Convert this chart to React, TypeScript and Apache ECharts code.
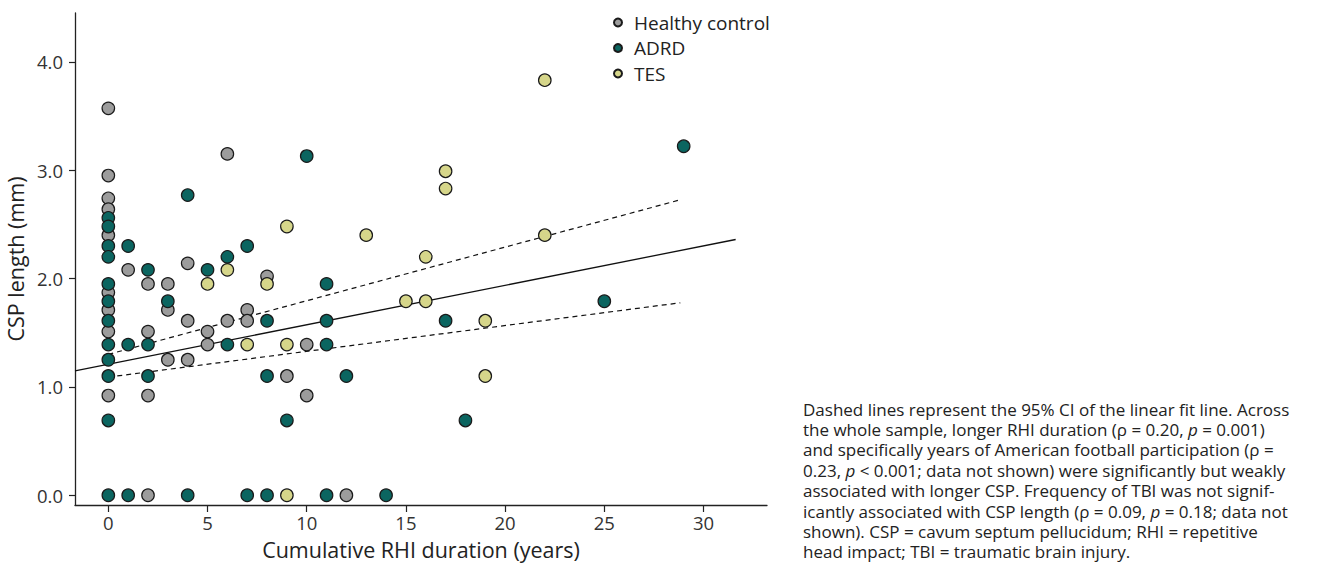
import React, { useEffect, useRef } from "react";
import * as echarts from "echarts";

const healthyControl: number[][] = [
  [0, 3.57], [0, 2.95], [0, 2.74], [0, 2.64], [0, 2.4], [0, 1.87], [0, 1.71], [0, 1.51], [0, 0.92],
  [1, 2.08],
  [2, 1.95], [2, 1.51], [2, 0.92], [2, 0],
  [3, 1.95], [3, 1.71], [3, 1.25],
  [4, 2.14], [4, 1.61], [4, 1.25],
  [5, 1.51], [5, 1.39],
  [6, 3.15], [6, 1.61],
  [7, 1.71], [7, 1.61],
  [8, 2.02],
  [9, 1.1],
  [10, 1.39], [10, 0.92],
  [12, 0],
];

const adrd: number[][] = [
  [0, 2.56], [0, 2.48], [0, 2.3], [0, 2.2], [0, 1.95], [0, 1.79], [0, 1.61], [0, 1.39], [0, 1.25], [0, 1.1], [0, 0.69], [0, 0],
  [1, 2.3], [1, 1.39], [1, 0],
  [2, 2.08], [2, 1.39], [2, 1.1],
  [3, 1.79],
  [4, 2.77], [4, 0],
  [5, 2.08],
  [6, 2.2], [6, 1.39],
  [7, 2.3], [7, 0],
  [8, 1.61], [8, 1.1], [8, 0],
  [9, 0.69],
  [10, 3.13],
  [11, 1.95], [11, 1.61], [11, 1.39], [11, 0],
  [12, 1.1],
  [14, 0],
  [17, 1.61],
  [18, 0.69],
  [25, 1.79],
  [29, 3.22],
];

const tes: number[][] = [
  [5, 1.95],
  [6, 2.08],
  [7, 1.39],
  [8, 1.95],
  [9, 2.48], [9, 1.39], [9, 0],
  [13, 2.4],
  [15, 1.79],
  [16, 2.2], [16, 1.79],
  [17, 2.99], [17, 2.83],
  [19, 1.61], [19, 1.1],
  [22, 3.83], [22, 2.4],
];

const fitLine: number[][] = [[-1.68, 1.148], [31.62, 2.36]];
const ciUpper: number[][] = [[0, 1.3], [28.9, 2.73]];
const ciLower: number[][] = [[0, 1.09], [28.83, 1.776]];

const xTicks = [0, 5, 10, 15, 20, 25, 30];
const yTicks = [0, 1, 2, 3, 4];

const captionLines = [
  "Dashed lines represent the 95% CI of the linear fit line. Across",
  "the whole sample, longer RHI duration (ρ = 0.20, {i|p} = 0.001)",
  "and specifically years of American football participation (ρ =",
  "0.23, {i|p} < 0.001; data not shown) were significantly but weakly",
  "associated with longer CSP. Frequency of TBI was not signif-",
  "icantly associated with CSP length (ρ = 0.09, {i|p} = 0.18; data not",
  "shown). CSP = cavum septum pellucidum; RHI = repetitive",
  "head impact; TBI = traumatic brain injury.",
];

const FONT = "'Open Sans', 'Noto Sans', sans-serif";
const AXIS = "#222";

export default function App() {
  const ref = useRef<HTMLDivElement>(null);
  useEffect(() => {
    document.body.style.margin = "0";
    if (!ref.current) return;
    const chart = echarts.init(ref.current, undefined, { renderer: "svg" });
    const pointStyle = (color: string) => ({
      color,
      opacity: 1,
      borderColor: "#1a1a1a",
      borderWidth: 1.2,
    });
    const lineStyleBase = { color: "#111", width: 1.3 };
    const CAP_FS = 17;
    const LH = 20.4;
    chart.setOption({
      animation: false,
      backgroundColor: "#fff",
      textStyle: { fontFamily: FONT },
      grid: { left: 75, right: 571, top: 13, bottom: 60, containLabel: false, outerBoundsMode: "none" },
      legend: {
        orient: "vertical",
        left: 608,
        top: 8,
        itemWidth: 22,
        itemHeight: 8,
        itemGap: 6.5,
        icon: "circle",
        textStyle: { fontSize: 19, lineHeight: 18, color: "#222", fontFamily: FONT },
        data: ["Healthy control", "ADRD", "TES"],
      },
      xAxis: {
        type: "value",
        min: -1.68,
        max: 33.2,
        name: "Cumulative RHI duration (years)",
        nameLocation: "middle",
        nameGap: 33,
        nameTextStyle: { fontSize: 21.5, color: "#222", fontFamily: FONT },
        axisLine: { show: true, onZero: false, lineStyle: { color: AXIS, width: 1.3 } },
        axisTick: { show: true, length: 7, customValues: xTicks, lineStyle: { color: AXIS, width: 1.2 } },
        axisLabel: { customValues: xTicks, fontSize: 18.5, color: "#333", margin: 8, fontFamily: FONT },
        splitLine: { show: false },
      },
      yAxis: {
        type: "value",
        min: -0.09,
        max: 4.45,
        name: "CSP length (mm)",
        nameLocation: "middle",
        nameGap: 45,
        nameTextStyle: { fontSize: 21.5, color: "#222", fontFamily: FONT },
        axisLine: { show: true, onZero: false, lineStyle: { color: AXIS, width: 1.3 } },
        axisTick: { show: true, length: 6, customValues: yTicks, lineStyle: { color: AXIS, width: 1.2 } },
        axisLabel: {
          customValues: yTicks,
          fontSize: 18.5,
          color: "#333",
          margin: 12,
          fontFamily: FONT,
          formatter: (v: number) => v.toFixed(1),
        },
        splitLine: { show: false },
      },
      series: [
        {
          type: "line",
          data: fitLine,
          symbol: "none",
          lineStyle: { ...lineStyleBase, type: "solid" },
          z: 1,
          silent: true,
        },
        {
          type: "line",
          data: ciUpper,
          symbol: "none",
          lineStyle: { ...lineStyleBase, width: 1.2, type: [5, 4] },
          z: 1,
          silent: true,
        },
        {
          type: "line",
          data: ciLower,
          symbol: "none",
          lineStyle: { ...lineStyleBase, width: 1.2, type: [5, 4] },
          z: 1,
          silent: true,
        },
        {
          name: "Healthy control",
          type: "scatter",
          data: healthyControl,
          symbolSize: 12.5,
          itemStyle: pointStyle("#9c9c9c"),
          z: 3,
        },
        {
          name: "ADRD",
          type: "scatter",
          data: adrd,
          symbolSize: 12.5,
          itemStyle: pointStyle("#0b6560"),
          z: 3,
        },
        {
          name: "TES",
          type: "scatter",
          data: tes,
          symbolSize: 12.5,
          itemStyle: pointStyle("#d6d68a"),
          z: 3,
        },
      ],
      graphic: captionLines.map((line, i) => ({
        type: "text",
        x: 803,
        y: 409 + i * LH,
        style: {
          text: line,
          fontSize: CAP_FS,
          lineHeight: LH,
          fontFamily: FONT,
          fill: "#222",
          textAlign: "left",
          verticalAlign: "middle",
          rich: {
            i: { fontStyle: "italic", fontSize: CAP_FS, lineHeight: LH, fontFamily: FONT, fill: "#222" },
          },
        },
      })),
    });
    return () => chart.dispose();
  }, []);
  return <div ref={ref} style={{ width: 1338, height: 565 }} />;
}
